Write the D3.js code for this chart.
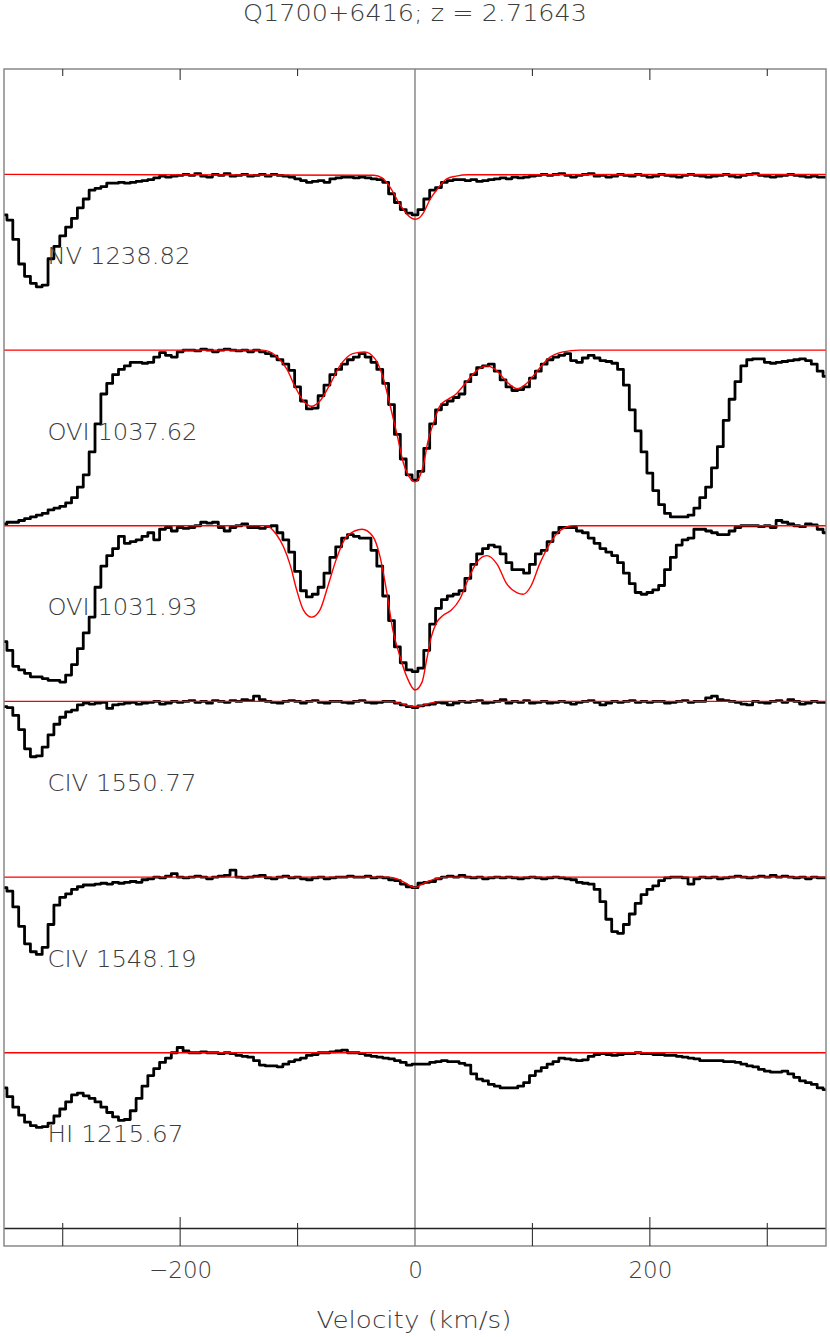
<!DOCTYPE html>
<html>
<head>
<meta charset="utf-8">
<script src="https://cdn.jsdelivr.net/npm/d3@7"></script>
<style>
  body { margin: 0; background: #fff; }
  svg text { font-family: "DejaVu Sans", "Liberation Sans", sans-serif; font-weight: 200; fill: #3c3c3c; }
</style>
</head>
<body>
<svg id="chart"></svg>
<script>
// ---- data ----
const titleText = "Q1700+6416; z = 2.71643";
const labels = ["NV 1238.82", "OVI 1037.62", "OVI 1031.93", "CIV 1550.77", "CIV 1548.19", "HI 1215.67"];
const offsets = [5, 4, 3, 2, 1, 0];          // each panel sits one flux unit above the next
const labelWidths = [143, 150, 150, 149, 149, 136];
const majorTicks = [-200, 0, 200];
const minorTicks = [-300, -100, 100, 300];

// spectra: pixel centres from -350 to 350 km/s, 5 km/s apart
const vStart = -350, vStep = 5;

const fluxNV = [
  0.77, 0.74, 0.63, 0.49, 0.42, 0.38, 0.36, 0.37, 0.52, 0.59,
  0.65, 0.70, 0.75, 0.81, 0.86, 0.91, 0.92, 0.93, 0.95, 0.95,
  0.955, 0.95, 0.955, 0.96, 0.965, 0.97, 0.98, 0.99, 0.985, 0.99,
  0.995, 1.0, 0.995, 1.005, 0.99, 0.985, 1.0, 0.995, 1.005, 0.99,
  0.995, 1.0, 0.99, 0.995, 1.0, 0.99, 1.0, 0.995, 0.99, 0.985,
  0.975, 0.965, 0.955, 0.96, 0.965, 0.955, 0.975, 0.98, 0.985, 0.985,
  0.98, 0.985, 0.98, 0.975, 0.97, 0.955, 0.89, 0.84, 0.80, 0.78,
  0.77, 0.80, 0.86, 0.91, 0.925, 0.955, 0.965, 0.97, 0.97, 0.965,
  0.97, 0.96, 0.965, 0.97, 0.975, 0.98, 0.975, 0.985, 0.98, 0.985,
  0.99, 0.995, 1.0, 0.995, 1.0, 1.005, 0.995, 0.985, 0.995, 1.0,
  1.005, 0.99, 0.995, 0.985, 0.99, 1.0, 0.995, 0.99, 1.0, 0.995,
  0.985, 0.99, 1.0, 0.995, 0.99, 0.985, 0.995, 1.0, 0.995, 0.99,
  0.985, 0.99, 0.995, 1.0, 0.99, 0.985, 0.995, 1.0, 1.005, 0.995,
  0.99, 0.985, 0.99, 0.995, 1.0, 0.995, 0.99, 0.985, 0.99, 0.985,
  0.985
];

const fluxOVI1037 = [
  0.01, 0.02, 0.02, 0.03, 0.04, 0.05, 0.06, 0.07, 0.09, 0.10,
  0.11, 0.13, 0.16, 0.22, 0.29, 0.42, 0.58, 0.75, 0.81, 0.86,
  0.89, 0.91, 0.93, 0.93, 0.925, 0.93, 0.96, 0.985, 0.97, 0.96,
  0.99, 1.0, 1.0, 0.995, 1.005, 1.0, 0.99, 1.0, 1.005, 1.0,
  0.995, 1.0, 0.99, 1.0, 0.99, 0.98, 0.965, 0.945, 0.92, 0.885,
  0.79, 0.71, 0.665, 0.67, 0.74, 0.80, 0.86, 0.89, 0.92, 0.945,
  0.96, 0.98, 0.96, 0.93, 0.89, 0.81, 0.69, 0.52, 0.38, 0.29,
  0.26, 0.31, 0.44, 0.58, 0.66, 0.69, 0.71, 0.73, 0.75, 0.82,
  0.86, 0.90, 0.91, 0.92, 0.88, 0.83, 0.79, 0.77, 0.775, 0.79,
  0.84, 0.88, 0.92, 0.945, 0.96, 0.97, 0.98, 0.94, 0.93, 0.955,
  0.97, 0.955, 0.94, 0.935, 0.925, 0.89, 0.80, 0.66, 0.54, 0.42,
  0.30, 0.20, 0.12, 0.07, 0.05, 0.05, 0.05, 0.06, 0.10, 0.16,
  0.22, 0.33, 0.45, 0.60, 0.72, 0.82, 0.91, 0.945, 0.95, 0.95,
  0.93, 0.925, 0.93, 0.935, 0.94, 0.945, 0.95, 0.94, 0.92, 0.88,
  0.85
];

const fluxOVI1031 = [
  0.34, 0.29, 0.20, 0.18, 0.16, 0.14, 0.14, 0.13, 0.12, 0.12,
  0.11, 0.15, 0.21, 0.30, 0.39, 0.48, 0.65, 0.77, 0.83, 0.87,
  0.94, 0.90, 0.91, 0.92, 0.94, 0.96, 0.92, 0.98, 0.99, 0.97,
  0.99, 0.985, 0.99, 1.0, 1.02, 1.015, 1.02, 0.99, 0.97, 0.99,
  1.0, 1.01, 0.99, 0.99, 0.985, 0.995, 1.0, 0.96, 0.92, 0.85,
  0.74, 0.63, 0.595, 0.61, 0.65, 0.73, 0.82, 0.88, 0.93, 0.95,
  0.94, 0.93, 0.93, 0.86, 0.77, 0.60, 0.46, 0.31, 0.22, 0.18,
  0.17, 0.19, 0.29, 0.44, 0.53, 0.58, 0.60, 0.61, 0.63, 0.70,
  0.78, 0.84, 0.87, 0.89, 0.88, 0.84, 0.79, 0.75, 0.75, 0.73,
  0.78, 0.84, 0.86, 0.91, 0.96, 0.99, 0.99, 0.99, 0.97, 0.96,
  0.93, 0.90, 0.87, 0.85, 0.83, 0.79, 0.73, 0.67, 0.62, 0.61,
  0.62, 0.635, 0.66, 0.75, 0.82, 0.89, 0.92, 0.93, 0.98, 0.98,
  0.97, 0.96, 0.95, 0.95, 0.97, 0.99, 1.0, 1.0, 1.0, 0.995,
  1.0, 0.99, 1.03, 1.02, 1.01, 1.0, 0.995, 1.01, 1.005, 0.98,
  0.96
];

const fluxCIV1550 = [
  0.97, 0.965, 0.92, 0.84, 0.73, 0.685, 0.69, 0.74, 0.81, 0.87,
  0.91, 0.94, 0.95, 0.98, 0.99, 0.985, 0.99, 0.995, 0.96, 0.98,
  0.985, 0.99, 0.995, 0.985, 0.99, 0.995, 1.0, 0.985, 0.99, 1.0,
  0.995, 1.0, 1.005, 0.995, 1.0, 0.99, 1.005, 1.0, 0.995, 1.005,
  1.0, 1.01, 1.005, 1.03, 1.01, 1.0, 0.995, 0.99, 1.0, 1.005,
  1.0, 0.99, 1.0, 1.005, 0.995, 0.99, 1.0, 1.0, 0.995, 0.99,
  1.0, 1.005, 0.995, 0.99, 0.995, 1.0, 1.0, 0.99, 0.98, 0.97,
  0.965, 0.975, 0.98, 0.985, 0.995, 0.99, 0.98, 0.99, 1.0, 0.995,
  1.0, 1.005, 0.99, 0.995, 1.0, 1.01, 0.99, 1.0, 0.995, 1.005,
  0.99, 0.995, 1.0, 0.99, 0.995, 1.0, 0.995, 0.985, 0.995, 1.0,
  1.005, 0.995, 0.98, 0.99, 1.0, 0.995, 1.0, 1.005, 0.995, 1.0,
  0.995, 1.0, 1.0, 0.99, 0.995, 1.0, 1.005, 0.995, 1.0, 1.0,
  1.02, 1.03, 1.01, 1.005, 1.0, 0.995, 0.985, 0.98, 1.0, 0.995,
  0.99, 1.0, 1.005, 0.995, 1.01, 1.0, 0.985, 0.99, 1.0, 0.995,
  0.995
];

const fluxCIV1548 = [
  0.94, 0.92, 0.83, 0.72, 0.62, 0.575, 0.56, 0.60, 0.73, 0.84,
  0.885, 0.905, 0.93, 0.945, 0.955, 0.955, 0.96, 0.965, 0.96, 0.97,
  0.965, 0.97, 0.975, 0.97, 0.985, 0.99, 1.0, 0.995, 1.005, 1.02,
  1.0, 0.995, 1.0, 1.005, 1.0, 0.99, 1.0, 1.005, 1.01, 1.04,
  1.0, 0.995, 1.0, 1.005, 1.01, 0.995, 0.99, 1.0, 1.005, 0.995,
  1.0, 0.99, 0.985, 0.995, 1.0, 0.99, 0.995, 1.0, 1.0, 1.005,
  1.0, 1.0, 1.005, 0.995, 1.0, 0.995, 0.985, 0.98, 0.96, 0.945,
  0.94, 0.965, 0.97, 0.975, 0.99, 1.0, 1.005, 1.0, 1.01, 1.0,
  0.995, 1.0, 0.99, 0.995, 1.0, 0.995, 1.0, 0.995, 0.99, 0.995,
  1.0, 0.995, 0.99, 0.995, 1.0, 0.995, 0.99, 0.985, 0.97, 0.965,
  0.96, 0.93, 0.86, 0.76, 0.69, 0.68, 0.73, 0.79, 0.85, 0.90,
  0.93, 0.95, 0.98, 0.995, 1.0, 1.0, 0.995, 0.96, 0.99, 1.0,
  0.995, 1.0, 0.99, 0.995, 1.0, 1.005, 1.0, 0.995, 1.0, 1.005,
  1.0, 1.01, 1.0, 1.005, 1.0, 0.995, 1.0, 0.99, 1.0, 0.995,
  0.995
];

const fluxHI = [
  0.80, 0.75, 0.69, 0.645, 0.605, 0.585, 0.575, 0.58, 0.60, 0.64,
  0.68, 0.72, 0.76, 0.77, 0.755, 0.74, 0.72, 0.69, 0.66, 0.635,
  0.615, 0.62, 0.67, 0.74, 0.81, 0.87, 0.91, 0.945, 0.97, 1.0,
  1.03, 1.01, 1.0, 1.0, 1.005, 1.0, 1.0, 0.995, 1.0, 0.995,
  0.985, 0.98, 0.975, 0.955, 0.93, 0.925, 0.925, 0.92, 0.935, 0.95,
  0.96, 0.97, 0.985, 0.99, 1.0, 1.0, 1.005, 1.01, 1.015, 1.0,
  1.0, 0.995, 0.985, 0.98, 0.975, 0.97, 0.965, 0.955, 0.945, 0.93,
  0.935, 0.935, 0.935, 0.945, 0.95, 0.955, 0.95, 0.95, 0.94, 0.93,
  0.88, 0.85, 0.84, 0.82, 0.81, 0.80, 0.80, 0.80, 0.81, 0.83,
  0.87, 0.895, 0.915, 0.935, 0.95, 0.97, 0.965, 0.96, 0.955, 0.96,
  0.98, 0.99, 0.995, 0.99, 0.985, 0.99, 0.995, 0.995, 1.0, 0.995,
  0.995, 0.99, 0.99, 0.985, 0.985, 0.98, 0.975, 0.97, 0.965, 0.955,
  0.955, 0.955, 0.955, 0.95, 0.95, 0.945, 0.935, 0.925, 0.92, 0.905,
  0.895, 0.89, 0.89, 0.895, 0.88, 0.86, 0.84, 0.83, 0.82, 0.80,
  0.79
];

// red model profiles, sampled at the velocities where they were read
const modelNV_v = [-350, -35, -28, -21, -13, -4, 0, 4, 7, 13, 20, 27, 35, 45, 350];
const modelNV_f = [1, 0.995, 0.98, 0.925, 0.83, 0.755, 0.745, 0.755, 0.78, 0.86, 0.925, 0.975, 0.99, 0.998, 1];

const modelOVI1037_v = [-350, -130, -118, -109, -102, -95, -88, -81, -72, -64, -53, -43, -34, -27, -21, -15, -10, -4, 0, 4, 7, 11, 16, 21, 28, 35, 44, 52, 61, 70, 78, 87, 95, 104, 115, 126, 140, 350];
const modelOVI1037_f = [1, 1, 0.965, 0.89, 0.79, 0.71, 0.68, 0.71, 0.81, 0.91, 0.98, 0.99, 0.95, 0.84, 0.68, 0.51, 0.36, 0.27, 0.25, 0.28, 0.34, 0.48, 0.59, 0.68, 0.72, 0.75, 0.82, 0.88, 0.91, 0.88, 0.82, 0.78, 0.81, 0.88, 0.96, 0.99, 1, 1];

const modelOVI1031_v = [-350, -127, -118, -112, -106, -101, -95, -88, -81, -74, -67, -58, -45, -36, -30, -24, -19, -13, -7, 0, 6, 10, 14, 18.5, 24, 31, 38, 45, 52.5, 61, 70, 78, 86.6, 92, 99, 106, 115, 123, 135, 350];
const modelOVI1031_f = [1, 1, 0.95, 0.88, 0.77, 0.64, 0.52, 0.48, 0.52, 0.66, 0.81, 0.94, 0.98, 0.94, 0.83, 0.62, 0.41, 0.26, 0.14, 0.065, 0.11, 0.24, 0.37, 0.45, 0.49, 0.52, 0.58, 0.69, 0.79, 0.83, 0.78, 0.67, 0.62, 0.61, 0.66, 0.78, 0.90, 0.97, 1, 1];

const modelCIV1550_v = [-350, -22, -13, -5, 0, 5, 13, 22, 350];
const modelCIV1550_f = [1, 1, 0.99, 0.975, 0.972, 0.975, 0.99, 1, 1];

const modelCIV1548_v = [-350, -22, -15, -8, 0, 5, 9, 13, 20, 28, 350];
const modelCIV1548_f = [1, 1, 0.99, 0.965, 0.94, 0.955, 0.97, 0.98, 0.995, 1, 1];

const modelHI_v = [-350, 350];
const modelHI_f = [1, 1];

const spectra = [fluxNV, fluxOVI1037, fluxOVI1031, fluxCIV1550, fluxCIV1548, fluxHI];
const modelsV = [modelNV_v, modelOVI1037_v, modelOVI1031_v, modelCIV1550_v, modelCIV1548_v, modelHI_v];
const modelsF = [modelNV_f, modelOVI1037_f, modelOVI1031_f, modelCIV1550_f, modelCIV1548_f, modelHI_f];

// ---- layout ----
const W = 830, H = 1337;
const x = d3.scaleLinear().domain([-350, 350]).range([4, 826]);
const y = d3.scaleLinear().domain([-0.1, 6.6]).range([1246, 69]);

const svg = d3.select('#chart').attr('width', W).attr('height', H);

svg.append('defs').append('clipPath').attr('id', 'plotClip')
  .append('rect')
  .attr('x', x(-350)).attr('y', y(6.6))
  .attr('width', x(350) - x(-350)).attr('height', y(-0.1) - y(6.6));

// title
svg.append('text')
  .attr('x', x(0)).attr('y', 21)
  .attr('text-anchor', 'middle')
  .attr('font-size', 23)
  .attr('textLength', 344).attr('lengthAdjust', 'spacingAndGlyphs')
  .text(titleText);

const plot = svg.append('g').attr('clip-path', 'url(#plotClip)');

// zero-velocity line
plot.append('line')
  .attr('x1', x(0)).attr('x2', x(0))
  .attr('y1', y(6.6)).attr('y2', y(-0.1))
  .attr('stroke', '#777').attr('stroke-width', 1.3);

// black histogram spectra
const stepLine = d3.line()
  .x(d => x(d[0]))
  .y(d => y(d[1]))
  .curve(d3.curveStep);

spectra.forEach((flux, i) => {
  const pts = flux.map((f, k) => [vStart + k * vStep, offsets[i] + f]);
  plot.append('path')
    .attr('d', stepLine(pts))
    .attr('fill', 'none')
    .attr('stroke', '#000')
    .attr('stroke-width', 2.8)
    .attr('stroke-linejoin', 'round');
});

// red models (continuum + fit), drawn over the data
const modelLine = d3.line()
  .x(d => x(d[0]))
  .y(d => y(d[1]))
  .curve(d3.curveMonotoneX);

modelsV.forEach((vs, i) => {
  const pts = vs.map((v, k) => [v, offsets[i] + modelsF[i][k]]);
  plot.append('path')
    .attr('d', modelLine(pts))
    .attr('fill', 'none')
    .attr('stroke', '#ff0000')
    .attr('stroke-width', 1.4);
});

// line labels
labels.forEach((lab, i) => {
  svg.append('text')
    .attr('x', x(-313)).attr('y', y(offsets[i] + 0.49))
    .attr('font-size', 23)
    .attr('textLength', labelWidths[i]).attr('lengthAdjust', 'spacingAndGlyphs')
    .text(lab);
});

// zero level of the lowest panel
svg.append('line')
  .attr('x1', x(-350)).attr('x2', x(350))
  .attr('y1', y(0)).attr('y2', y(0))
  .attr('stroke', '#222').attr('stroke-width', 1.4);

// frame
svg.append('rect')
  .attr('x', x(-350)).attr('y', y(6.6))
  .attr('width', x(350) - x(-350)).attr('height', y(-0.1) - y(6.6))
  .attr('fill', 'none').attr('stroke', '#808080').attr('stroke-width', 1.4);

// ticks: top (pointing down) and bottom (pointing up)
const tickG = svg.append('g').attr('stroke', '#333').attr('stroke-width', 1.1);
function drawTicks(vals, lenTop, lenBot) {
  vals.forEach(v => {
    tickG.append('line')
      .attr('x1', x(v)).attr('x2', x(v))
      .attr('y1', y(6.6)).attr('y2', y(6.6) + lenTop);
    tickG.append('line')
      .attr('x1', x(v)).attr('x2', x(v))
      .attr('y1', y(-0.1)).attr('y2', y(-0.1) - lenBot);
  });
}
drawTicks(majorTicks.filter(v => v !== 0), 11, 29);
drawTicks(minorTicks, 7, 23);

// tick labels
const tickLabels = svg.append('g')
  .attr('transform', `translate(0,${y(-0.1)})`)
  .call(d3.axisBottom(x).tickValues(majorTicks).tickSize(0).tickPadding(32)
    .tickFormat(d => d < 0 ? '\u2212' + Math.abs(d) : d));
tickLabels.select('.domain').remove();
tickLabels.selectAll('text')
  .attr('font-size', 23)
  .attr('dy', 0)
  .attr('fill', '#3c3c3c')
  .attr('font-family', '"DejaVu Sans", sans-serif');

// axis title
svg.append('text')
  .attr('x', x(0) - 1).attr('y', 1328)
  .attr('text-anchor', 'middle')
  .attr('font-size', 23)
  .attr('textLength', 195).attr('lengthAdjust', 'spacingAndGlyphs')
  .text('Velocity (km/s)');
</script>
</body>
</html>
